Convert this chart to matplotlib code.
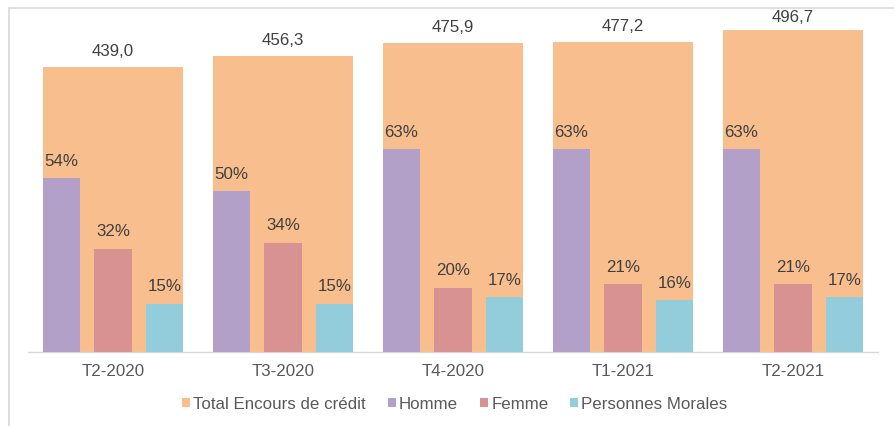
import matplotlib
matplotlib.use("Agg")
import matplotlib.pyplot as plt
from matplotlib.patches import Patch
from matplotlib.lines import Line2D
import numpy as np

plt.rcParams['font.family'] = ['Liberation Sans', 'DejaVu Sans']

categories = ["T2-2020", "T3-2020", "T4-2020", "T1-2021", "T2-2021"]
total_encours = [439.0, 456.3, 475.9, 477.2, 496.7]
homme = [54, 50, 63, 63, 63]
femme = [32, 34, 20, 21, 21]
personnes_morales = [15, 15, 17, 16, 17]

c_total = "#F8BE8D"
c_homme = "#B3A0C8"
c_femme = "#D99292"
c_pm = "#93CDDC"
c_text = "#404040"

W, H = 894, 427
fig = plt.figure(figsize=(W / 100, H / 100), dpi=100)
fig.patch.set_facecolor("white")

ax_left, ax_right = 28, 878
ax_bottom_px, ax_top_px = 352.7, 20
ax = fig.add_axes([ax_left / W, (H - ax_bottom_px) / H,
                   (ax_right - ax_left) / W, (ax_bottom_px - ax_top_px) / H])
ax2 = ax.twinx()

x = np.arange(len(categories))
ax.bar(x, total_encours, width=0.824, color=c_total, zorder=1)

nw = 0.218
off = 0.303
ax2.bar(x - off, homme, width=nw, color=c_homme, zorder=2)
ax2.bar(x, femme, width=nw, color=c_femme, zorder=2)
ax2.bar(x + off, personnes_morales, width=nw, color=c_pm, zorder=2)

ax.set_xlim(-0.5, len(categories) - 0.5)
ax.set_ylim(0, 332.7 / 0.648)
ax2.set_ylim(0, 332.7 / 3.21)

fs = 12.2
# total labels sit above each bar, kept inside the chart frame
for xi, v in zip(x, total_encours):
    bx, by = ax.transData.transform((xi, v))
    ly = min(by + 16.5, H - 18)
    ax.text(bx, ly, f"{v:.1f}".replace(".", ","), transform=None,
            ha="center", va="center", fontsize=fs, color=c_text)

for series, dx in ((homme, -off), (femme, 0), (personnes_morales, off)):
    for xi, v in zip(x, series):
        ax2.annotate(f"{v}%", (xi + dx, v), xytext=(0, 13),
                     textcoords="offset points", ha="center", va="center",
                     fontsize=fs, color=c_text, annotation_clip=False)

for a in (ax, ax2):
    for s in ("top", "left", "right"):
        a.spines[s].set_visible(False)
    a.set_yticks([])
    a.patch.set_visible(False)
ax2.spines["bottom"].set_visible(False)
ax.spines["bottom"].set_color("#D9D9D9")
ax.spines["bottom"].set_linewidth(1.0)
ax.set_xticks(x)
ax.set_xticklabels(categories, fontsize=fs, color="#595959")
ax.tick_params(axis="x", length=0, pad=8)
ax.set_zorder(1)
ax2.set_zorder(2)

handles = [Patch(facecolor=c, edgecolor="none") for c in (c_total, c_homme, c_femme, c_pm)]
labels = ["Total Encours de crédit", "Homme", "Femme", "Personnes Morales"]
fig.legend(handles, labels, loc="center", bbox_to_anchor=(455 / W, (H - 405) / H),
           ncol=4, frameon=False, fontsize=fs, labelcolor="#595959",
           handlelength=0.45, handleheight=0.45, handletextpad=0.2,
           columnspacing=1.3)

# outer chart frame
fig.add_artist(Line2D([8.5 / W, 1.0], [(H - 8.5) / H] * 2, color="#D9D9D9", lw=1.2))
fig.add_artist(Line2D([8.5 / W] * 2, [0, (H - 8.5) / H], color="#D9D9D9", lw=1.2))

fig.savefig("out.png", dpi=100, facecolor="white")
